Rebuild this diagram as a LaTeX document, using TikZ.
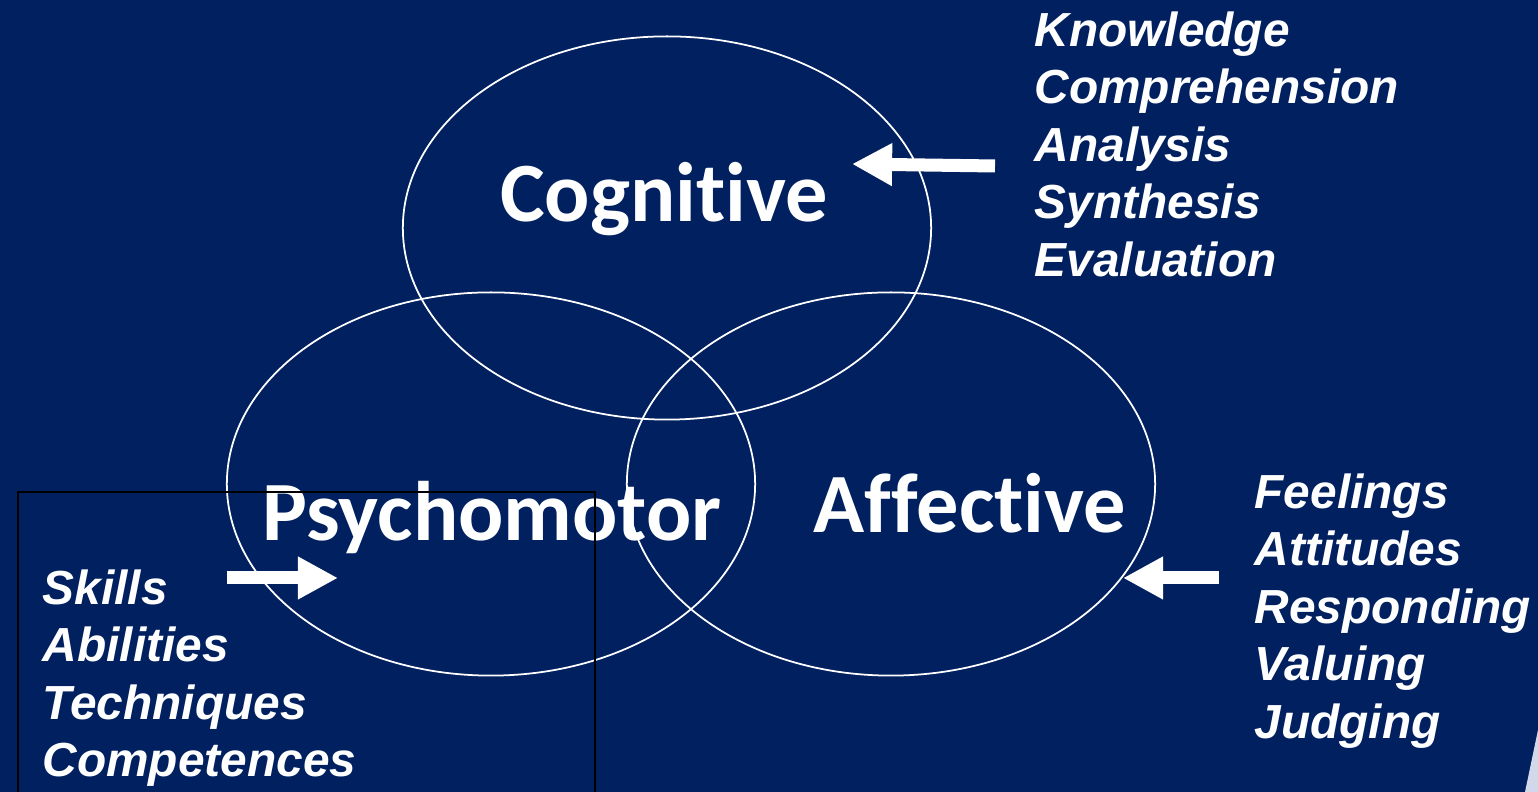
\documentclass[tikz,border=0pt]{standalone}
\usepackage{fontspec}
\usepackage{xcolor}
\usepackage{tikz}
\usetikzlibrary{arrows.meta, positioning, shapes.geometric}
\newfontfamily\ringfont{Carlito}[Ligatures=NoCommon]
\newfontfamily\listfont{Liberation Sans}
\definecolor{slideBlue}{HTML}{002060}
\definecolor{slideEdge}{HTML}{D3D7EA}

\begin{document}
\begin{tikzpicture}[
    x=0.01cm, y=-0.01cm,
    ring/.style={
        ellipse, draw=white, line width=0.5pt,
        minimum width=5.28cm, minimum height=3.83cm, inner sep=0pt
    },
    ringlabel/.style={
        text=white, inner sep=0pt, anchor=base,
        font=\ringfont\bfseries\fontsize{24}{28}\selectfont
    },
    itemlist/.style={
        text=white, inner sep=0pt, anchor=north west, align=left,
        font=\listfont\bfseries\itshape\fontsize{13.6}{16.35}\selectfont
    },
    fatarrow/.style={
        draw=white, line width=3.7pt,
        -{Triangle[length=11.4pt, width=11.4pt, fill=white]}
    },
    frame/.style={draw=black, line width=0.5pt}
]

% slide background
\fill[slideBlue] (0,0) rectangle (1538,792);
\fill[slideEdge] (1538,730) -- (1525,792) -- (1538,792) -- cycle;
\useasboundingbox (0,0) rectangle (1538,792);

% the three domains
\node[ring] (cogring) at (667,228) {};
\node[ring] (psyring) at (491,484) {};
\node[ring] (affring) at (891,484) {};

\node[ringlabel] (cog) at (664,222) {Cognitive};
\node[ringlabel] (psy) at (492,541) {Psychomotor};
\node[ringlabel] (aff) at (970,533) {Affective};

% what each domain covers
\node[itemlist] (coglist) at (1034,11)
    {Knowledge\\Comprehension\\Analysis\\Synthesis\\Evaluation};
\node[itemlist] (afflist) at (1254,473)
    {Feelings\\Attitudes\\Responding\\Valuing\\Judging};
\node[itemlist] (psylist) at (42,569)
    {Skills\\Abilities\\Techniques\\Competences};

% arrows into the rings
\coordinate (cogtail) at (995,166);
\coordinate (cogtip) at (852,164);
\coordinate (afftail) at (1219,578);
\coordinate (afftip) at (1123,578);
\coordinate (psytail) at (227,578);
\coordinate (psytip) at (338,578);

\draw[fatarrow] (cogtail) -- (cogtip);
\draw[fatarrow] (afftail) -- (afftip);
\draw[fatarrow] (psytail) -- (psytip);

% box round the skills list
\draw[frame] (18,792) |- (595,492) -- (595,792);

\end{tikzpicture}
\end{document}
